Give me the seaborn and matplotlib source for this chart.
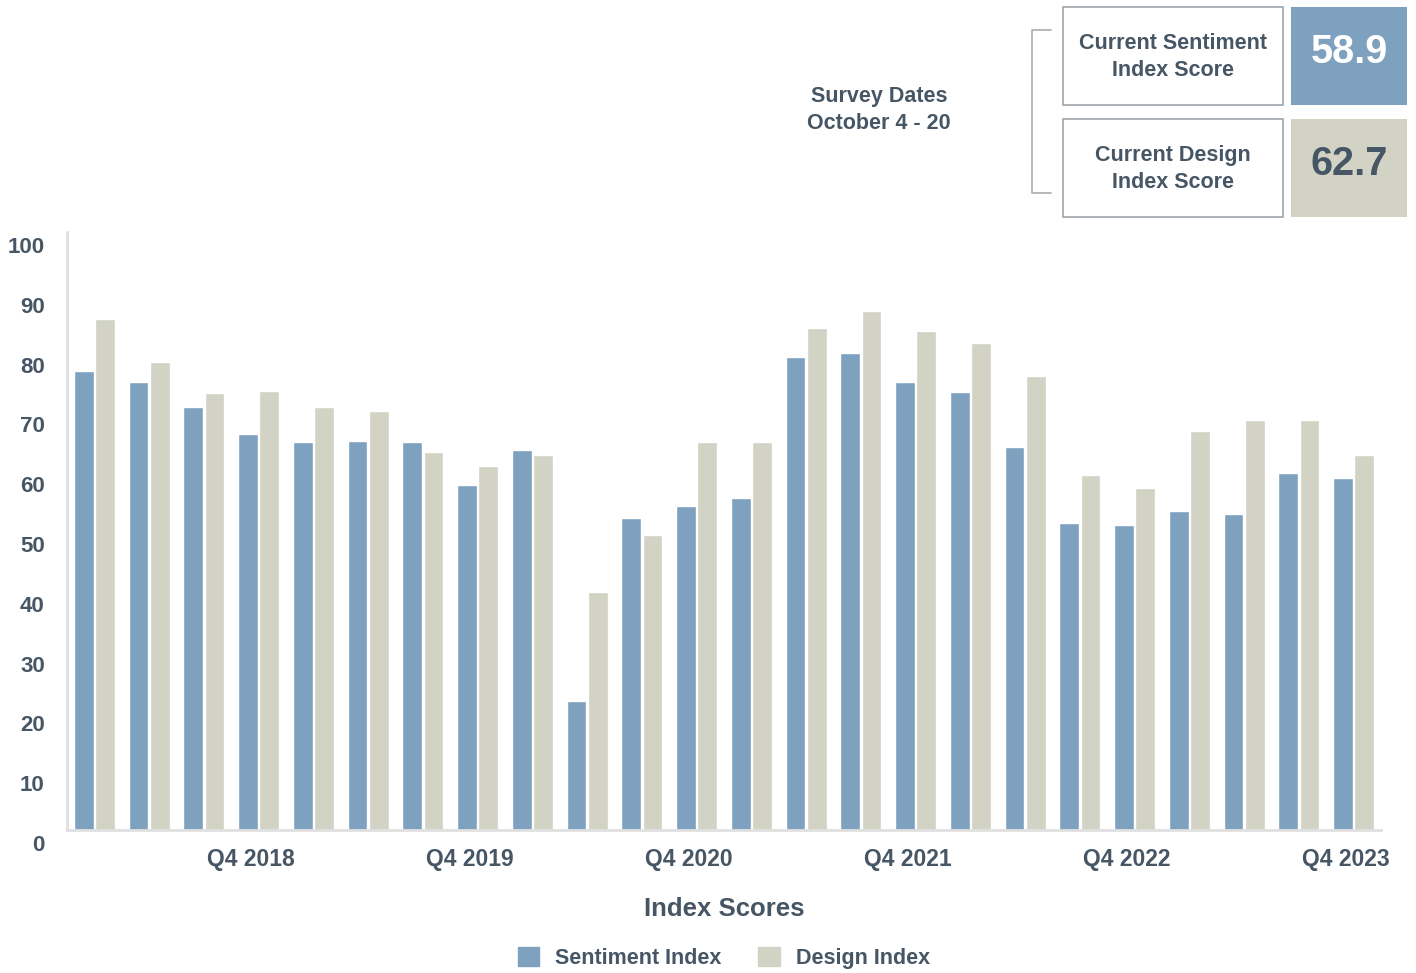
import pandas as pd
import matplotlib.pyplot as plt
import matplotlib.transforms as mtransforms
from matplotlib.patches import Rectangle
from matplotlib.lines import Line2D
import seaborn as sns

# Quarterly index scores, Q1 2018 - Q4 2023
quarters = [f"Q{q} {y}" for y in range(2018, 2024) for q in range(1, 5)]
sentiment = [76.8, 74.9, 70.7, 66.2, 64.9, 65.1, 64.9, 57.7, 63.5, 21.6, 52.2, 54.2,
             55.5, 79.1, 79.8, 74.9, 73.2, 64.0, 51.3, 51.0, 53.3, 52.8, 59.7, 58.9]
design = [85.5, 78.3, 73.1, 73.4, 70.7, 70.1, 63.2, 60.9, 62.7, 39.8, 49.3, 64.9,
          64.9, 83.9, 86.8, 83.4, 81.4, 75.9, 59.4, 57.2, 66.7, 68.6, 68.6, 62.7]
series_names = ['Sentiment Index', 'Design Index']
current_sentiment = 58.9
current_design = 62.7

blue = '#7fa1c0'
beige = '#d2d3c5'
text_col = '#465665'
grey = '#e0e0e0'

df = pd.DataFrame({
    'quarter': quarters * 2,
    'score': sentiment + design,
    'series': [series_names[0]] * len(quarters) + [series_names[1]] * len(quarters),
})

sns.set_style('white')
plt.rcParams['font.family'] = ['Liberation Sans', 'DejaVu Sans']
plt.rcParams['font.weight'] = 'bold'

fig = plt.figure(figsize=(14.16, 9.73), dpi=100)
ax = fig.add_axes([67 / 1416, 143 / 973, 1314 / 1416, 598 / 973])

sns.barplot(data=df, x='quarter', y='score', hue='series', order=quarters,
            palette=[blue, beige], width=0.77, gap=0.06, ax=ax, legend=False,
            saturation=1)

ax.set_ylim(0, 100)
ax.set_xlim(-0.5, len(quarters) - 0.5)
ax.set_yticks(range(0, 101, 10))
ax.tick_params(axis='y', length=0, pad=16, labelsize=16, labelcolor=text_col)
off = mtransforms.ScaledTranslation(0, -13 / 100, fig.dpi_scale_trans)
for lab in ax.get_yticklabels():
    lab.set_transform(lab.get_transform() + off)
    lab.set_fontweight('bold')

q4_pos = [i for i, q in enumerate(quarters) if q.startswith('Q4')]
ax.set_xticks(q4_pos)
ax.set_xticklabels([quarters[i] for i in q4_pos], fontsize=16.5,
                   color=text_col, fontweight='bold')
ax.tick_params(axis='x', length=0, pad=13)
xoff = mtransforms.ScaledTranslation(-8 / 100, 0, fig.dpi_scale_trans)
for lab in ax.get_xticklabels():
    lab.set_transform(lab.get_transform() + xoff)
ax.set_xticks([i - 0.5 for i in range(len(quarters) + 1)], minor=True)
ax.tick_params(axis='x', which='minor', direction='in', length=11,
               width=1.2, color=grey)

for s in ['top', 'right']:
    ax.spines[s].set_visible(False)
for s in ['left', 'bottom']:
    ax.spines[s].set_color(grey)
    ax.spines[s].set_linewidth(2)

ax.set_ylabel('')
ax.set_xlabel('Index Scores', fontsize=18.5, color=text_col,
              fontweight='bold', labelpad=19)

# legend
handles = [Rectangle((0, 0), 1, 1, color=c) for c in [blue, beige]]
fig.legend(handles, series_names, loc='center', bbox_to_anchor=(724 / 1416, 1 - 958 / 973),
           ncol=2, frameon=False, handlelength=1.0, handleheight=1.0,
           columnspacing=1.7, handletextpad=0.75,
           prop={'size': 15.5, 'weight': 'bold'}, labelcolor=text_col)

# survey dates
fig.text(879 / 1416, 1 - 110 / 973, 'Survey Dates\nOctober 4 - 20', ha='center',
         va='center', fontsize=15.5, color=text_col, fontweight='bold',
         linespacing=1.32)

# bracket
W, H = 1416, 973
def fx(x):
    return x / W
def fy(y):
    return 1 - y / H
fig.add_artist(Line2D([fx(1051), fx(1032), fx(1032), fx(1051)],
                      [fy(30), fy(30), fy(193), fy(193)],
                      color='#a8adb3', lw=1.2))

# score boxes
boxes = [('Current Sentiment\nIndex Score', current_sentiment, blue, 'white', 7),
         ('Current Design\nIndex Score', current_design, beige, text_col, 119)]
for label, val, fill, vcol, top in boxes:
    fig.add_artist(Rectangle((fx(1063), fy(top + 98)), (1283 - 1063) / W, 98 / H,
                             facecolor='white', edgecolor='#a0a6ad', lw=1.2))
    fig.text(fx(1173), fy(top + 50), label, ha='center', va='center',
             fontsize=15.5, color=text_col, fontweight='bold', linespacing=1.38)
    fig.add_artist(Rectangle((fx(1291), fy(top + 98)), (1407 - 1291) / W, 98 / H,
                             facecolor=fill, edgecolor='none'))
    fig.text(fx(1349), fy(top + 45), f'{val:.1f}', ha='center', va='center',
             fontsize=28.5, color=vcol, fontweight='bold')

fig.savefig('out.png', dpi=100)
